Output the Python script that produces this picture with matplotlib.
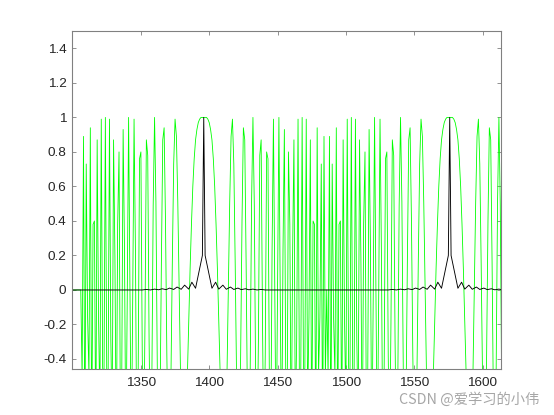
import numpy as np
import matplotlib
matplotlib.use('Agg')
from matplotlib import pyplot as plt

plt.rcParams['font.family'] = ['Liberation Sans', 'DejaVu Sans']
plt.rcParams['axes.unicode_minus'] = False

# amostras do sinal verde (uma por inteiro, de 1299 a 1614)
amostra = np.arange(1299, 1615)
verde = [
    # 1299 - 1305 (zeros antes do pulso)
    0, 0, 0, 0, 0, 0, 0,
    # 1306 - 1395
    0.00, -0.51, 0.89, -0.99, 0.73, -0.16, -0.50, 0.94, -0.92, 0.38,
    0.40, -0.94, 0.87, -0.16, -0.69, 0.99, -0.45, -0.51, 1.00, -0.49,
    -0.55, 0.99, -0.29, -0.78, 0.87, 0.19, -0.99, 0.38, 0.80, -0.76,
    -0.50, 0.93, 0.23, -0.99, -0.06, 1.00, 0.00, -1.00, -0.06, 0.99,
    0.23, -0.93, -0.50, 0.76, 0.80, -0.38, -0.99, -0.19, 0.87, 0.78,
    -0.29, -0.99, -0.55, 0.49, 1.00, 0.51, -0.45, -0.99, -0.69, 0.16,
    0.87, 0.94, 0.40, -0.38, -0.92, -0.94, -0.50, 0.16, 0.73, 0.99,
    0.89, 0.51, 0.00, -0.49, -0.84, -0.99, -0.96, -0.78, -0.50, -0.19,
    0.12, 0.38, 0.60, 0.76, 0.87, 0.93, 0.97, 0.99, 1.00, 1.00,
    # 1396 (pico)
    1.00,
    # 1397 - 1485
    1.00, 1.00, 0.99, 0.97, 0.93, 0.87, 0.76, 0.60, 0.38, 0.12,
    -0.19, -0.50, -0.78, -0.96, -0.99, -0.84, -0.49, 0.00, 0.51, 0.89,
    0.99, 0.73, 0.16, -0.50, -0.94, -0.92, -0.38, 0.40, 0.94, 0.87,
    0.16, -0.69, -0.99, -0.45, 0.51, 1.00, 0.49, -0.55, -0.99, -0.29,
    0.78, 0.87, -0.19, -0.99, -0.38, 0.80, 0.76, -0.50, -0.93, 0.23,
    0.99, -0.06, -1.00, 0.00, 1.00, -0.06, -0.99, 0.23, 0.93, -0.50,
    -0.76, 0.80, 0.38, -0.99, 0.19, 0.87, -0.78, -0.29, 0.99, -0.55,
    -0.49, 1.00, -0.51, -0.45, 0.99, -0.69, -0.16, 0.87, -0.94, 0.40,
    0.38, -0.92, 0.94, -0.50, -0.16, 0.73, -0.99, 0.89, -0.51,
    # 1486 - 1575
    0.00, -0.51, 0.89, -0.99, 0.73, -0.16, -0.50, 0.94, -0.92, 0.38,
    0.40, -0.94, 0.87, -0.16, -0.69, 0.99, -0.45, -0.51, 1.00, -0.49,
    -0.55, 0.99, -0.29, -0.78, 0.87, 0.19, -0.99, 0.38, 0.80, -0.76,
    -0.50, 0.93, 0.23, -0.99, -0.06, 1.00, 0.00, -1.00, -0.06, 0.99,
    0.23, -0.93, -0.50, 0.76, 0.80, -0.38, -0.99, -0.19, 0.87, 0.78,
    -0.29, -0.99, -0.55, 0.49, 1.00, 0.51, -0.45, -0.99, -0.69, 0.16,
    0.87, 0.94, 0.40, -0.38, -0.92, -0.94, -0.50, 0.16, 0.73, 0.99,
    0.89, 0.51, 0.00, -0.49, -0.84, -0.99, -0.96, -0.78, -0.50, -0.19,
    0.12, 0.38, 0.60, 0.76, 0.87, 0.93, 0.97, 0.99, 1.00, 1.00,
    # 1576 (pico)
    1.00,
    # 1577 - 1614
    1.00, 1.00, 0.99, 0.97, 0.93, 0.87, 0.76, 0.60, 0.38, 0.12,
    -0.19, -0.50, -0.78, -0.96, -0.99, -0.84, -0.49, 0.00, 0.51, 0.89,
    0.99, 0.73, 0.16, -0.50, -0.94, -0.92, -0.38, 0.40, 0.94, 0.87,
    0.16, -0.69, -0.99, -0.45, 0.51, 1.00, 0.49, -0.55,
]

# curva preta (vertices)
preto_x = [
    1299, 1351, 1354, 1357, 1360, 1363, 1365.5, 1368.5, 1371, 1374, 1376.5,
    1379.5, 1382, 1385, 1387.3, 1390, 1395, 1396, 1397, 1402, 1404.7, 1407,
    1410, 1412.5, 1415.5, 1418, 1421, 1423.5, 1426.5, 1429, 1432, 1435, 1438,
    1441,
    1531, 1534, 1537, 1540, 1543, 1545.5, 1548.5, 1551, 1554, 1556.5,
    1559.5, 1562, 1565, 1567.3, 1570, 1575, 1576, 1577, 1582, 1584.7, 1587,
    1590, 1592.5, 1595.5, 1598, 1601, 1603.5, 1606.5, 1609, 1612, 1615,
]
preto_y = [
    0, 0, 0.003, 0.0, 0.005, 0.001, 0.007, 0.002, 0.011, 0.003, 0.017,
    0.004, 0.028, 0.005, 0.045, 0.01, 0.2, 1.0, 0.2, 0.01, 0.045, 0.005,
    0.028, 0.004, 0.017, 0.003, 0.011, 0.002, 0.007, 0.001, 0.005, 0.0, 0.003,
    0,
    0, 0.003, 0.0, 0.005, 0.001, 0.007, 0.002, 0.011, 0.003, 0.017,
    0.004, 0.028, 0.005, 0.045, 0.01, 0.2, 1.0, 0.2, 0.01, 0.045, 0.005,
    0.028, 0.004, 0.017, 0.003, 0.011, 0.002, 0.007, 0.001, 0.005, 0.0,
]

xticks = [1350, 1400, 1450, 1500, 1550, 1600]
yticks = [-0.4, -0.2, 0, 0.2, 0.4, 0.6, 0.8, 1, 1.2, 1.4]
ylabels = ['-0.4', '-0.2', '0', '0.2', '0.4', '0.6', '0.8', '1', '1.2', '1.4']

fig = plt.figure(figsize=(5.54, 4.15), dpi=100)
ax = fig.add_axes([0.13, 0.11, 0.775, 0.815])

ax.plot(amostra, verde, color=(0, 1, 0), linewidth=0.6)
ax.plot(preto_x, preto_y, color='k', linewidth=0.65)

ax.set_xlim(1299.6, 1613.8)
ax.set_ylim(-0.46, 1.5)
ax.set_xticks(xticks)
ax.set_yticks(yticks)
ax.set_yticklabels(ylabels)

ax.tick_params(direction='in', top=True, right=True, length=3, width=0.6,
               color='#808080', labelcolor='#262626', labelsize=9.7)
ax.tick_params(axis='x', pad=5.5)
ax.tick_params(axis='y', pad=4)
for lado in ax.spines.values():
    lado.set_color('#808080')
    lado.set_linewidth(0.8)

fig.text(0.973, 0.026, 'CSDN @爱学习的小伟', ha='right', va='baseline',
         fontsize=10.3, color='#a6a6a6',
         family=['Noto Sans CJK SC', 'DejaVu Sans'])

plt.savefig('out.png', dpi=100)
